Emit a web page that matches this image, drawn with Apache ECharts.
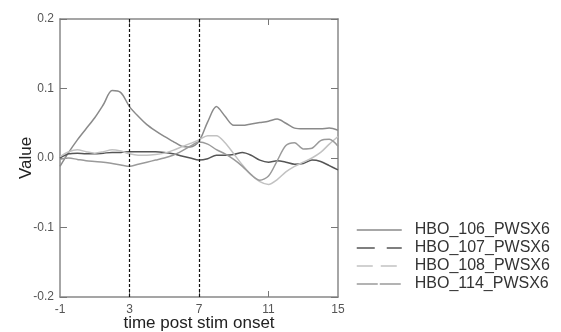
<!DOCTYPE html>
<html>
<head>
<meta charset="utf-8">
<script src="https://cdn.jsdelivr.net/npm/echarts@6/dist/echarts.min.js"></script>
<style>
  html, body { margin: 0; padding: 0; background: #fff; }
  #chart { width: 561px; height: 332px; }
</style>
</head>
<body>
<div id="chart"></div>
<script>
// time axis (s), sampled every 0.5
var timeList = [-1, -0.5, 0, 0.5, 1, 1.5, 2, 2.5, 3, 3.5, 4, 4.5, 5, 5.5, 6, 6.5, 7,
  7.5, 8, 8.5, 9, 9.5, 10, 10.5, 11, 11.5, 12, 12.5, 13, 13.5, 14, 14.5, 15];

var hbo106 = [-0.012, 0.008, 0.026, 0.042, 0.058, 0.077, 0.097, 0.094, 0.074, 0.060, 0.048,
  0.039, 0.031, 0.024, 0.017, 0.016, 0.024, 0.052, 0.074, 0.060, 0.047, 0.047, 0.049,
  0.051, 0.053, 0.056, 0.050, 0.043, 0.042, 0.042, 0.042, 0.043, 0.040];
var hbo107 = [0.000, 0.006, 0.007, 0.006, 0.006, 0.007, 0.008, 0.008, 0.009, 0.009, 0.009,
  0.009, 0.008, 0.006, 0.003, 0.000, -0.003, -0.001, 0.004, 0.004, 0.005, 0.008, 0.004,
  -0.003, -0.006, -0.004, -0.006, -0.009, -0.008, -0.003, -0.005, -0.011, -0.017];
var hbo108 = [0.002, 0.009, 0.012, 0.009, 0.007, 0.009, 0.012, 0.010, 0.006, 0.004, 0.004,
  0.005, 0.007, 0.011, 0.016, 0.021, 0.026, 0.032, 0.032, 0.022, 0.006, -0.010, -0.024,
  -0.034, -0.038, -0.031, -0.020, -0.012, -0.006, 0.000, 0.008, 0.020, 0.031];
var hbo114 = [-0.002, 0.000, -0.002, -0.004, -0.005, -0.006, -0.008, -0.010, -0.012, -0.009, -0.006,
  -0.003, 0.000, 0.004, 0.010, 0.017, 0.023, 0.020, 0.012, 0.006, -0.002, -0.012, -0.024,
  -0.032, -0.026, -0.004, 0.018, 0.022, 0.013, 0.014, 0.025, 0.027, 0.017];

var seriesNames = ["HBO_106_PWSX6", "HBO_107_PWSX6", "HBO_108_PWSX6", "HBO_114_PWSX6"];
var seriesValues = [hbo106, hbo107, hbo108, hbo114];
var lineColors = ["#8a8a8a", "#555555", "#c2c2c2", "#9a9a9a"];
var legendDash = ["solid", [18, 12], [16, 8], [21, 2]];

var stimMarks = [3, 7];
var xTickLabels = [-1, 3, 7, 11, 15];

var font = "Liberation Sans, Arial, sans-serif";

var chartDom = document.getElementById("chart");
var myChart = echarts.init(chartDom);

function pairs(vals) {
  var out = [];
  for (var i = 0; i < timeList.length; i++) {
    out.push([timeList[i], vals[i]]);
  }
  return out;
}

var series = [];
for (var i = 0; i < seriesNames.length; i++) {
  var s = {
    name: seriesNames[i],
    type: "line",
    data: pairs(seriesValues[i]),
    smooth: 0.3,
    symbol: "none",
    lineStyle: { color: lineColors[i], width: 1.5 },
    itemStyle: { color: lineColors[i] },
    z: 3
  };
  if (i === 0) {
    s.markLine = {
      silent: true,
      symbol: "none",
      label: { show: false },
      lineStyle: { color: "#111", type: [3, 2], width: 1.2 },
      data: stimMarks.map(function (t) { return { xAxis: t }; })
    };
  }
  series.push(s);
}

var legendData = seriesNames.map(function (n, i) {
  return {
    name: n,
    itemStyle: { color: "rgba(0,0,0,0)", borderWidth: 0 },
    lineStyle: { color: lineColors[i], type: legendDash[i], width: 1.5 }
  };
});

var axisLine = { show: true, onZero: false, lineStyle: { color: "#888", width: 1.5 } };

var option = {
  animation: false,
  grid: { left: 60, top: 19, right: 223, bottom: 35, outerBoundsMode: "none", containLabel: false },
  legend: {
    orient: "vertical",
    left: 351,
    top: 217,
    itemWidth: 45,
    itemHeight: 16,
    itemGap: 2,
    data: legendData,
    textStyle: { fontFamily: font, fontSize: 16, color: "#333", padding: [0, 0, 0, 8] }
  },
  xAxis: [
    {
      type: "value",
      min: -1,
      max: 15,
      position: "bottom",
      axisLine: axisLine,
      axisTick: { inside: true, length: 6, customValues: [3, 7, 11], lineStyle: { color: "#777" } },
      axisLabel: { customValues: xTickLabels, color: "#555", fontSize: 12, fontFamily: font, margin: 7 },
      splitLine: { show: false },
      name: "time post stim onset",
      nameLocation: "middle",
      nameGap: 18,
      nameMoveOverlap: false,
      nameTextStyle: { fontFamily: font, fontSize: 17, color: "#222" }
    },
    {
      type: "value",
      min: -1,
      max: 15,
      position: "top",
      axisLine: axisLine,
      axisTick: { inside: true, length: 6, customValues: [3, 7, 11], lineStyle: { color: "#777" } },
      axisLabel: { show: false },
      splitLine: { show: false }
    }
  ],
  yAxis: [
    {
      type: "value",
      min: -0.2,
      max: 0.2,
      interval: 0.1,
      position: "left",
      axisLine: axisLine,
      axisTick: { inside: true, length: 7, lineStyle: { color: "#777" } },
      axisLabel: {
        color: "#555",
        fontSize: 12,
        fontFamily: font,
        margin: 6,
        formatter: function (v) { return v.toFixed(1); }
      },
      splitLine: { show: false },
      name: "Value",
      nameLocation: "middle",
      nameGap: 25,
      nameMoveOverlap: false,
      nameTextStyle: { fontFamily: font, fontSize: 17, color: "#222" }
    },
    {
      type: "value",
      min: -0.2,
      max: 0.2,
      interval: 0.1,
      position: "right",
      axisLine: axisLine,
      axisTick: { inside: true, length: 7, lineStyle: { color: "#777" } },
      axisLabel: { show: false },
      splitLine: { show: false }
    }
  ],
  series: series
};

option && myChart.setOption(option);
</script>
</body>
</html>
